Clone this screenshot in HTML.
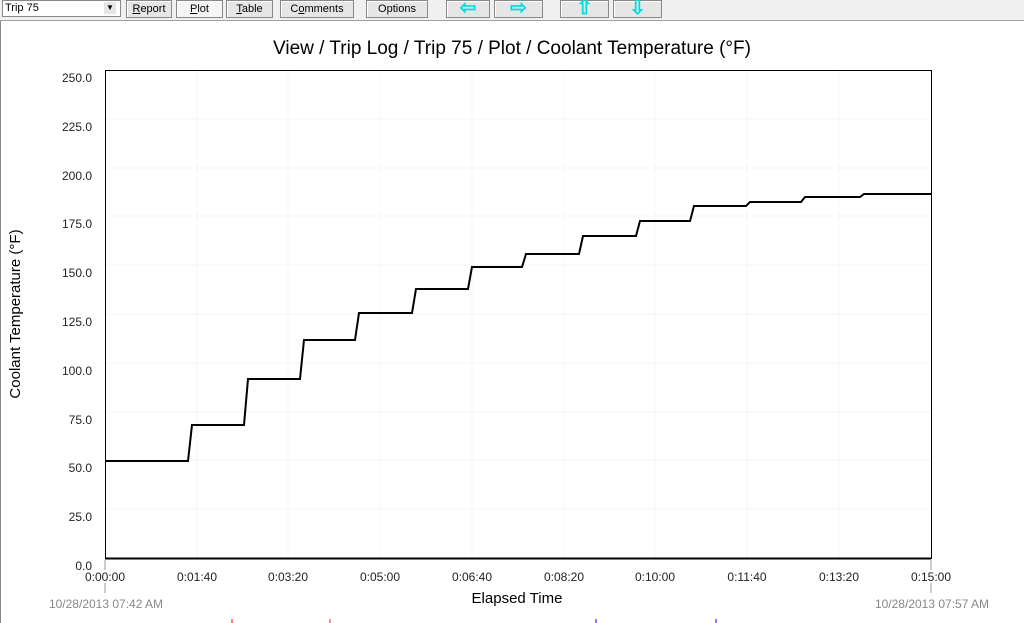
<!DOCTYPE html>
<html><head><style>
body{margin:0;width:1024px;height:623px;overflow:hidden;background:#fff;font-family:"Liberation Sans",sans-serif;position:relative}
.tb{position:absolute;left:0;top:0;width:1024px;height:20px;background:#f0f0f0;border-bottom:1px solid #a0a0a0}
.btn{position:absolute;top:0;height:16px;border:1px solid #888;background:#e6e6e6;font-size:11px;line-height:16px;text-align:center;box-shadow:inset 1px 1px #fff}
.frame{position:absolute;left:0;top:21px;width:1023px;height:602px;border-left:1px solid #888}
.ar{color:#0dd;font-size:20px;font-weight:bold;line-height:15px}
</style></head><body>
<div class="tb">
<div style="position:absolute;left:2px;top:0;width:115px;height:15px;background:#fff;border:1px solid #888;font-size:11px;line-height:15px;padding-left:2px">Trip 75</div>
<div style="position:absolute;left:104px;top:2px;width:12px;height:12px;background:#e6e6e6;font-size:8px;text-align:center;line-height:12px">▼</div>
<div class="btn" style="left:126px;width:44px"><u>R</u>eport</div>
<div class="btn" style="left:176px;width:45px;background:#f5f5f5"><u>P</u>lot</div>
<div class="btn" style="left:226px;width:45px"><u>T</u>able</div>
<div class="btn" style="left:280px;width:72px">C<u>o</u>mments</div>
<div class="btn" style="left:366px;width:60px">Options</div>
<div class="btn ar" style="left:446px;width:42px">⇦</div>
<div class="btn ar" style="left:494px;width:47px">⇨</div>
<div class="btn ar" style="left:560px;width:47px">⇧</div>
<div class="btn ar" style="left:613px;width:47px">⇩</div>
</div>
<div class="frame"></div>
<svg width="1024" height="623" style="position:absolute;left:0;top:0" font-family="Liberation Sans,sans-serif">
<text x="512" y="54" font-size="19" text-anchor="middle">View / Trip Log / Trip 75 / Plot / Coolant Temperature (°F)</text>
<g stroke="#f4f4f4" stroke-width="1">
<line x1="197" y1="70" x2="197" y2="558"/><line x1="288" y1="70" x2="288" y2="558"/><line x1="380" y1="70" x2="380" y2="558"/><line x1="472" y1="70" x2="472" y2="558"/><line x1="564" y1="70" x2="564" y2="558"/><line x1="655" y1="70" x2="655" y2="558"/><line x1="747" y1="70" x2="747" y2="558"/><line x1="839" y1="70" x2="839" y2="558"/>
<line x1="105" y1="119" x2="931" y2="119"/><line x1="105" y1="168" x2="931" y2="168"/><line x1="105" y1="216" x2="931" y2="216"/><line x1="105" y1="265" x2="931" y2="265"/><line x1="105" y1="314" x2="931" y2="314"/><line x1="105" y1="363" x2="931" y2="363"/><line x1="105" y1="412" x2="931" y2="412"/><line x1="105" y1="460" x2="931" y2="460"/><line x1="105" y1="509" x2="931" y2="509"/>
</g>
<rect x="105.5" y="70.5" width="826" height="488" fill="none" stroke="#000"/>
<line x1="105" y1="558.5" x2="931" y2="558.5" stroke="#000" stroke-width="2"/>
<g font-size="12" text-anchor="end" fill="#222">
<text x="92" y="82">250.0</text><text x="92" y="131">225.0</text><text x="92" y="180">200.0</text><text x="92" y="228">175.0</text><text x="92" y="277">150.0</text><text x="92" y="326">125.0</text><text x="92" y="375">100.0</text><text x="92" y="424">75.0</text><text x="92" y="472">50.0</text><text x="92" y="521">25.0</text><text x="92" y="570">0.0</text>
</g>
<g stroke="#999"><line x1="105" y1="560" x2="105" y2="570"/><line x1="931" y1="560" x2="931" y2="570"/><line x1="105" y1="583" x2="105" y2="593"/><line x1="931" y1="583" x2="931" y2="593"/></g>
<g font-size="12" text-anchor="middle" fill="#222">
<text x="105" y="581">0:00:00</text><text x="197" y="581">0:01:40</text><text x="288" y="581">0:03:20</text><text x="380" y="581">0:05:00</text><text x="472" y="581">0:06:40</text><text x="564" y="581">0:08:20</text><text x="655" y="581">0:10:00</text><text x="747" y="581">0:11:40</text><text x="839" y="581">0:13:20</text><text x="931" y="581">0:15:00</text>
</g>
<text x="517" y="603" font-size="15" text-anchor="middle">Elapsed Time</text>
<text x="106" y="608" font-size="12" fill="#888" text-anchor="middle">10/28/2013 07:42 AM</text>
<text x="932" y="608" font-size="12" fill="#888" text-anchor="middle">10/28/2013 07:57 AM</text>
<text transform="translate(20,314) rotate(-90)" font-size="15" text-anchor="middle">Coolant Temperature (°F)</text>
<polyline fill="none" stroke="#000" stroke-width="2" points="105,461 188,461 192,425 244,425 248,379 300,379 304,340 355,340 359,313 412,313 416,289 468,289 472,267 522,267 526,254 579,254 583,236 636,236 640,221 690,221 694,206 746,206 750,202 801,202 805,197 860,197 864,194 931,194"/>
<g stroke-width="1"><line x1="232" y1="619" x2="232" y2="623" stroke="red"/><line x1="330" y1="619" x2="330" y2="623" stroke="#c33"/><line x1="596" y1="619" x2="596" y2="623" stroke="blue"/><line x1="716" y1="619" x2="716" y2="623" stroke="blue"/></g>
</svg>
</body></html>
